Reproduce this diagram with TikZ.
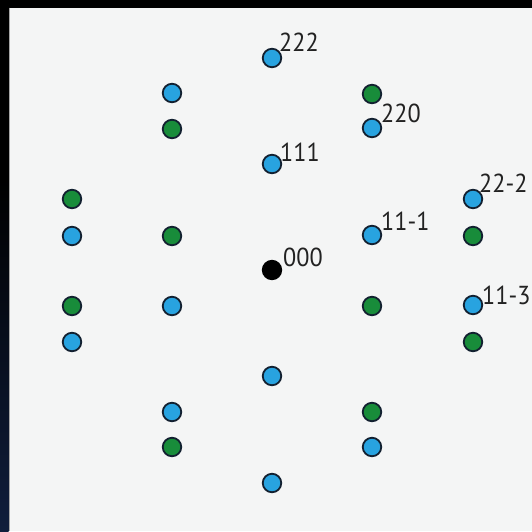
\documentclass[tikz,border=0pt]{standalone}
\usepackage{fontspec}
\setmainfont[FakeStretch=0.93]{PT Sans}
\definecolor{spotblue}{RGB}{40,163,224}
\definecolor{spotgreen}{RGB}{24,140,58}
\definecolor{dotline}{RGB}{18,32,48}
\definecolor{panel}{RGB}{244,245,245}
\definecolor{labgray}{RGB}{34,34,34}
\definecolor{navy}{RGB}{16,30,60}
\begin{document}
\begin{tikzpicture}[x=1pt,y=-1pt,
  spot/.style={circle,draw=dotline,line width=1.8pt,minimum size=18.5pt,inner sep=0pt},
  bspot/.style={spot,fill=spotblue},
  gspot/.style={spot,fill=spotgreen},
  kspot/.style={spot,draw=black,fill=black},
  lab/.style={anchor=base west,inner sep=0pt,text=labgray,font=\fontsize{26}{26}\selectfont}]
\useasboundingbox (0,0) rectangle (532,531);
% frame
\fill[black] (0,0) rectangle (532,531);
\shade[top color=black,bottom color=navy] (0,180) rectangle (8.5,531);
\fill[panel] (8.5,7.5) rectangle (532,531);
\draw[black!35,line width=0.8pt] (8.9,7.5) -- (8.9,531);
% column x=72
\node[gspot] (g72a) at (72,199) {};
\node[bspot] (b72a) at (72,236) {};
\node[gspot] (g72b) at (72,306) {};
\node[bspot] (b72b) at (72,342) {};
% column x=172
\node[bspot] (b172a) at (172,93) {};
\node[gspot] (g172a) at (172,129) {};
\node[gspot] (g172b) at (172,236) {};
\node[bspot] (b172b) at (172,306) {};
\node[bspot] (b172c) at (172,412) {};
\node[gspot] (g172c) at (172,447) {};
% column x=272
\node[bspot] (d222) at (272,58) {};
\node[bspot] (d111) at (272,164) {};
\node[kspot] (d000) at (272,270) {};
\node[bspot] (b272a) at (272,376) {};
\node[bspot] (b272b) at (272,483) {};
% column x=372
\node[gspot] (g372a) at (372,94) {};
\node[bspot] (d220) at (372,128) {};
\node[bspot] (d111m) at (372,235) {};
\node[gspot] (g372b) at (372,306) {};
\node[gspot] (g372c) at (372,412) {};
\node[bspot] (b372a) at (372,447) {};
% column x=472
\node[bspot] (d222m) at (473,199) {};
\node[gspot] (g472a) at (473,236) {};
\node[bspot] (d113m) at (473,305) {};
\node[gspot] (g472b) at (473,342) {};
% labels
\node[lab] (l222) at ([shift={(7,-7)}]d222.center) {222};
\node[lab] (l220) at ([shift={(9,-6)}]d220.center) {220};
\node[lab] (l111) at ([shift={(8,-3)}]d111.center) {111};
\node[lab] (l000) at ([shift={(11,-4)}]d000.center) {000};
\node[lab] (l111m) at ([shift={(9,-5)}]d111m.center) {11-1};
\node[lab] (l222m) at ([shift={(6,-7)}]d222m.center) {22-2};
\node[lab] (l113m) at ([shift={(9,-1)}]d113m.center) {11-3};
\end{tikzpicture}
\end{document}
